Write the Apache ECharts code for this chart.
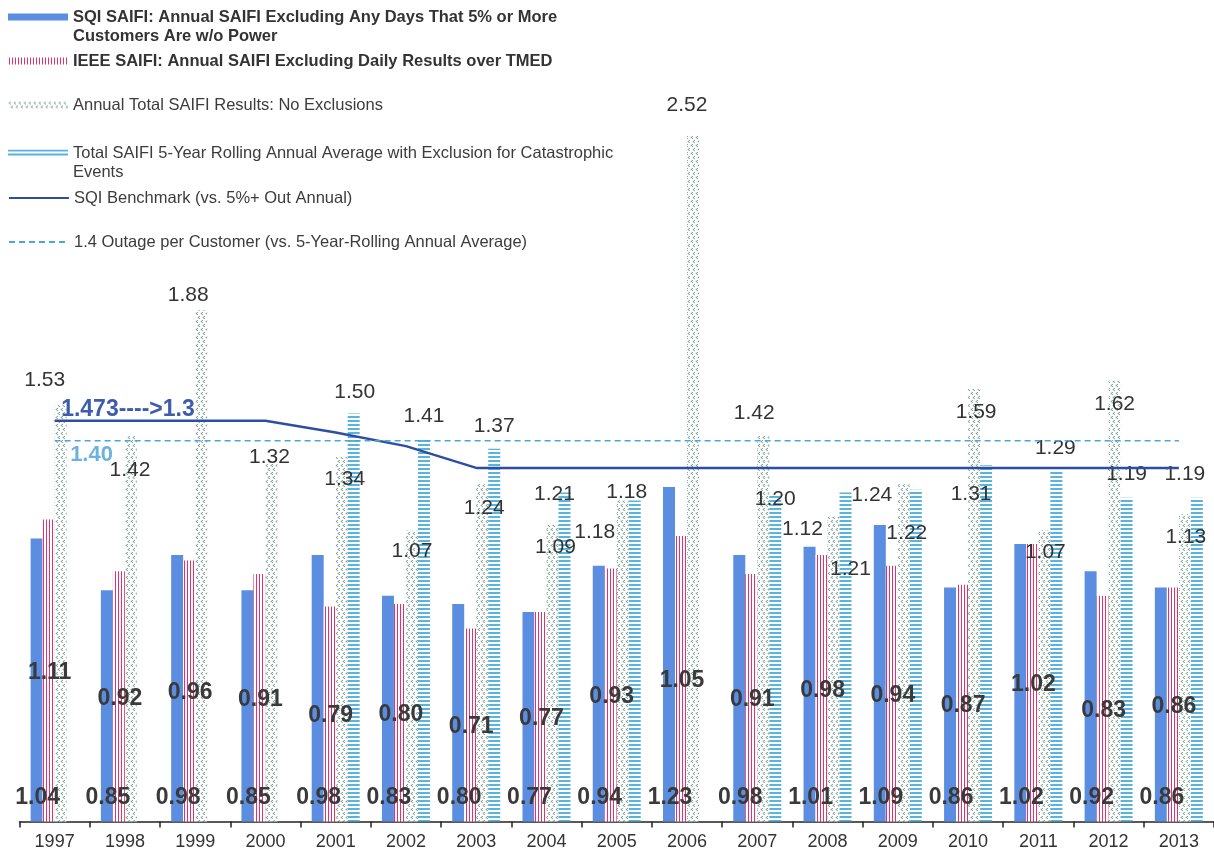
<!DOCTYPE html>
<html>
<head>
<meta charset="utf-8">
<style>
  html, body { margin: 0; padding: 0; background: #ffffff; }
  #chart { width: 1214px; height: 855px; }
</style>
<script src="https://cdn.jsdelivr.net/npm/echarts@6/dist/echarts.min.js"></script>
</head>
<body>
<div id="chart"></div>
<script>
// SAIFI history, 1997-2013
const years = ['1997', '1998', '1999', '2000', '2001', '2002', '2003', '2004', '2005',
               '2006', '2007', '2008', '2009', '2010', '2011', '2012', '2013'];

const sqiSaifi   = [1.04, 0.85, 0.98, 0.85, 0.98, 0.83, 0.80, 0.77, 0.94, 1.23, 0.98, 1.01, 1.09, 0.86, 1.02, 0.92, 0.86];
const ieeeSaifi  = [1.11, 0.92, 0.96, 0.91, 0.79, 0.80, 0.71, 0.77, 0.93, 1.05, 0.91, 0.98, 0.94, 0.87, 1.02, 0.83, 0.86];
const totalSaifi = [1.53, 1.42, 1.88, 1.32, 1.34, 1.07, 1.24, 1.09, 1.18, 2.52, 1.42, 1.12, 1.24, 1.59, 1.07, 1.62, 1.13];
const rollingAvg = [null, null, null, null, 1.50, 1.41, 1.37, 1.21, 1.18, null, 1.20, 1.21, 1.22, 1.31, 1.29, 1.19, 1.19];
const sqiBenchmark = [1.473, 1.473, 1.473, 1.473, 1.43, 1.38, 1.30, 1.30, 1.30, 1.30, 1.30, 1.30, 1.30, 1.30, 1.30, 1.30, 1.30];
const outageTarget = [1.4, 1.4, 1.4, 1.4, 1.4, 1.4, 1.4, 1.4, 1.4, 1.4, 1.4, 1.4, 1.4, 1.4, 1.4, 1.4, 1.4];

const NAME_SQI = 'SQI SAIFI: Annual SAIFI Excluding Any Days That 5% or More Customers Are w/o Power';
const NAME_IEEE = 'IEEE SAIFI: Annual SAIFI Excluding Daily Results over TMED';
const NAME_TOTAL = 'Annual Total SAIFI Results: No Exclusions';
const NAME_ROLL = 'Total SAIFI 5-Year Rolling Annual Average with Exclusion for Catastrophic Events';
const NAME_BENCH = 'SQI Benchmark (vs. 5%+ Out Annual)';
const NAME_TARGET = '1.4 Outage per Customer (vs. 5-Year-Rolling Annual Average)';

// hand-placed value labels: [dx, dy] nudges from the default spot above each bar
const totalLabelNudge = [[-16, -10], [-1, 50], [-13, 1], [-2, 10], [3, 38], [0, 36], [2, 39], [3, 38], [-28, 47],
                         [-6, -15], [-9, -7], [-31, 28], [-32, 26], [2, 39], [1, 37], [0, 39], [1, 39]];
const rollingLabelNudge = [[0, 0], [0, 0], [0, 0], [0, 0], [1, -6], [0, -6], [0, -7], [-10, 17], [-8, 7],
                           [0, 0], [0, 20], [5, 92], [-9, 59], [-15, 45], [-1, -7], [0, -8], [-12, -8]];

const FONT = '"Liberation Sans", Arial, Helvetica, sans-serif';

// fill patterns for the hatched bars
function makePattern(w, h, draw) {
  const c = document.createElement('canvas');
  c.width = w; c.height = h;
  const g = c.getContext('2d');
  g.fillStyle = '#ffffff';
  g.fillRect(0, 0, w, h);
  draw(g);
  return { image: c, repeat: 'repeat' };
}
const ieeeFill = makePattern(3, 4, g => {
  g.fillStyle = '#e2326c';
  g.fillRect(1, 0, 1, 4);
});
const rollingFill = makePattern(4, 4, g => {
  g.fillStyle = '#5ab3dc';
  g.fillRect(0, 0, 4, 2);
});
const totalFill = makePattern(5, 8, g => {
  g.fillStyle = '#88a99c';
  [[2, 0], [1, 1], [2, 2], [4, 4], [3, 5], [4, 6]].forEach(p => g.fillRect(p[0], p[1], 1, 1));
  g.fillStyle = '#d2e0da';
  [[1, 0], [0, 1], [1, 2], [3, 4], [2, 5], [3, 6]].forEach(p => g.fillRect(p[0], p[1], 1, 1));
});

const chart = echarts.init(document.getElementById('chart'), null, { renderer: 'canvas' });

function legendAt(name, centerY, opts) {
  const lh = 19;
  const legend = {
    data: [name],
    left: 8,
    top: opts.split ? centerY - 1.5 * lh : centerY - 0.5 * lh,
    padding: 0,
    itemWidth: 60,
    itemHeight: 7,
    selectedMode: false,
    formatter: n => opts.split ? '\n' + n.replace(' ' + opts.split, '\n' + opts.split) : n,
    textStyle: {
      fontFamily: FONT,
      fontSize: 16.5,
      lineHeight: lh,
      fontWeight: opts.bold ? 'bold' : 'normal',
      color: opts.bold ? '#333333' : '#3c3c3c'
    }
  };
  if (opts.line) {
    legend.itemStyle = { opacity: 0 };   // line swatch only, no marker dot
  } else {
    legend.icon = 'rect';
  }
  return legend;
}

const option = {
  animation: false,
  backgroundColor: '#ffffff',
  textStyle: { fontFamily: FONT },
  legend: [
    legendAt(NAME_SQI, 17, { bold: true, split: 'Customers' }),
    legendAt(NAME_IEEE, 61, { bold: true }),
    legendAt(NAME_TOTAL, 105, {}),
    legendAt(NAME_ROLL, 153, { split: 'Events' }),
    legendAt(NAME_BENCH, 198, { line: true }),
    legendAt(NAME_TARGET, 242, { line: true })
  ],
  grid: { left: 19.5, width: 1197, top: 114.3, height: 707.2 },
  xAxis: {
    type: 'category',
    data: years,
    boundaryGap: true,
    axisLine: { lineStyle: { color: '#222222', width: 1.5 } },
    axisTick: { show: true, length: 6, lineStyle: { color: '#222222', width: 1.5 } },
    axisLabel: { fontFamily: FONT, fontSize: 18, color: '#333333', margin: 12 },
    splitLine: { show: false }
  },
  yAxis: {
    type: 'value',
    min: 0,
    max: 2.6,
    show: false,
    splitLine: { show: false }
  },
  series: [
    {
      name: NAME_SQI,
      type: 'bar',
      barWidth: 12,
      barGap: '0%',
      data: sqiSaifi,
      itemStyle: { color: '#5b8ee0' },
      label: {
        show: true, position: 'insideBottom', distance: 12, offset: [1, 0],
        fontFamily: FONT, fontSize: 23, fontWeight: 'bold', color: '#3a3a3a',
        formatter: p => p.value.toFixed(2)
      }
    },
    {
      name: NAME_IEEE,
      type: 'bar',
      barWidth: 12,
      barGap: '0%',
      data: ieeeSaifi,
      itemStyle: { color: ieeeFill },
      label: {
        show: true, position: 'inside', offset: [1, 2],
        fontFamily: FONT, fontSize: 23, fontWeight: 'bold', color: '#3a3a3a',
        formatter: p => p.value.toFixed(2)
      }
    },
    {
      name: NAME_TOTAL,
      type: 'bar',
      barWidth: 12,
      barGap: '0%',
      data: totalSaifi.map((v, i) => ({ value: v, label: { offset: totalLabelNudge[i] } })),
      itemStyle: { color: totalFill },
      label: {
        show: true, position: 'top', distance: 5,
        fontFamily: FONT, fontSize: 21, color: '#333333',
        formatter: p => p.value.toFixed(2)
      }
    },
    {
      name: NAME_ROLL,
      type: 'bar',
      barWidth: 12,
      barGap: '0%',
      data: rollingAvg.map((v, i) => ({ value: v, label: { offset: rollingLabelNudge[i] } })),
      itemStyle: { color: rollingFill },
      label: {
        show: true, position: 'top', distance: 5,
        fontFamily: FONT, fontSize: 21, color: '#333333',
        formatter: p => (p.value == null ? '' : p.value.toFixed(2))
      }
    },
    {
      name: NAME_BENCH,
      type: 'line',
      data: sqiBenchmark,
      symbol: 'none',
      z: 5,
      lineStyle: { color: '#2f4ea2', width: 2.5 },
      itemStyle: { color: '#2f4ea2' },
      markPoint: {
        silent: true,
        symbol: 'circle',
        symbolSize: 1,
        itemStyle: { color: 'rgba(0,0,0,0)' },
        data: [{ coord: [years[0], sqiBenchmark[0]] }],
        label: {
          show: true, position: 'right', distance: 6, offset: [0, -11],
          formatter: sqiBenchmark[0] + '---->' + sqiBenchmark[sqiBenchmark.length - 1].toFixed(1),
          fontFamily: FONT, fontSize: 23, fontWeight: 'bold', color: '#3d5cae'
        }
      }
    },
    {
      name: NAME_TARGET,
      type: 'line',
      data: outageTarget,
      symbol: 'none',
      z: 5,
      lineStyle: { color: '#4aa7d8', width: 1.5, type: [6, 4] },
      itemStyle: { color: '#4aa7d8' },
      markPoint: {
        silent: true,
        symbol: 'circle',
        symbolSize: 1,
        itemStyle: { color: 'rgba(0,0,0,0)' },
        data: [{ coord: [years[0], outageTarget[0]] }],
        label: {
          show: true, position: 'right', distance: 15, offset: [0, 14],
          formatter: outageTarget[0].toFixed(2),
          fontFamily: FONT, fontSize: 22, fontWeight: 'bold', color: '#6cb3dc'
        }
      }
    }
  ]
};

chart.setOption(option);
</script>
</body>
</html>
